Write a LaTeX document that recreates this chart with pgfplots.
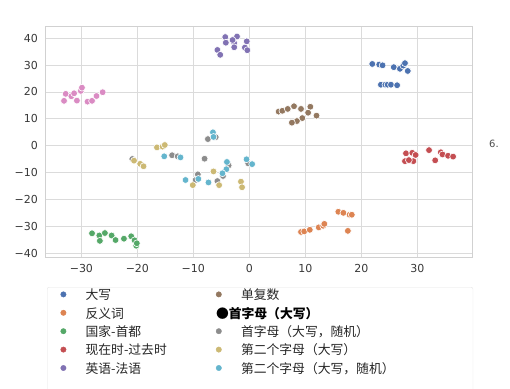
\documentclass[border=0pt]{standalone}
\usepackage{pgfplots}
\pgfplotsset{compat=1.18}
\usepackage{fontspec}
\setmainfont{DejaVu Sans}
\newfontfamily\cjk{Noto Sans CJK SC}
\definecolor{cBlue}{HTML}{4C72B0}
\definecolor{cOrange}{HTML}{DD8452}
\definecolor{cGreen}{HTML}{55A868}
\definecolor{cRed}{HTML}{C44E52}
\definecolor{cPurple}{HTML}{8172B3}
\definecolor{cBrown}{HTML}{937860}
\definecolor{cPink}{HTML}{DA8BC3}
\definecolor{cGray}{HTML}{8C8C8C}
\definecolor{cOlive}{HTML}{CCB974}
\definecolor{cCyan}{HTML}{64B5CD}
\newcommand\LA[1]{\makebox[130.3pt][l]{#1}}
\newcommand\LB[1]{\makebox[218.7pt][l]{#1}}
\pgfplotsset{
  dot/.style={only marks, mark=*, color=#1, mark size=3.4pt,
    mark options={draw=white, fill=#1, line width=0.6pt}},
}
\begin{document}
\begin{tikzpicture}
\path[use as bounding box] (0pt,0pt) rectangle (510pt,388pt);
\begin{axis}[
  at={(45pt,131pt)}, anchor=south west,
  scale only axis, width=427.7pt, height=231pt,
  xmin=-36.5, xmax=39.9, ymin=-41.3, ymax=44.5,
  xtick={-30,-20,-10,0,10,20,30},
  xticklabels={−30,−20,−10,0,10,20,30},
  ytick={-40,-30,-20,-10,0,10,20,30,40},
  yticklabels={−40,−30,−20,−10,0,10,20,30,40},
  major tick length=0pt,
  grid=major,
  major grid style={draw=black!14, line width=0.8pt},
  axis line style={draw=black!18, line width=0.8pt},
  tick label style={font=\fontsize{11}{13}\selectfont, text=black!78},
  xticklabel style={yshift=-4pt},
  yticklabel style={xshift=-3.6pt},
  legend columns=2,
  legend image code/.code={\fill (0pt,5.3pt) circle (2.7pt);},
  legend style={
    at={(axis description cs:0.00468,-0.12987)}, anchor=north west,
    draw=black!10, rounded corners=2pt, fill=white,
    inner xsep=13.3pt, inner ysep=2.0pt,
    row sep=6.4pt,
    cells={anchor=base west},
    font=\cjk\fontsize{12.8}{14}\selectfont,
    text=black!85,
    nodes={inner sep=0pt, text height=10.5pt, text depth=1.5pt},
    /tikz/every odd column/.append style={column sep=19.3pt},
    /tikz/every even column/.append style={column sep=0pt},
  },
]
% blue
\addplot[dot=cBlue] coordinates {
(21.96,30.4) (23.2,30.2) (23.8,29.9) (25.8,29.2) (26.9,28.6) (27.5,29.8) (27.8,30.7) (28.3,27.8)
(23.5,22.7) (24.3,22.7) (24.7,22.7) (25.3,22.7) (26.4,22.5)};
\addlegendentry{\LA{大写}}
% brown
\addplot[dot=cBrown] coordinates {
(5.24,12.7) (5.9,13.0) (6.86,13.7) (7.98,14.7) (9.23,13.7) (10.9,14.5) (10.5,12.3)
(9.46,10.3) (8.5,9.2) (7.6,8.6) (12.0,11.2)};
\addlegendentry{\LB{单复数}}
% orange
\addplot[dot=cOrange] coordinates {
(9.23,-32.0) (9.8,-31.8) (10.8,-31.2) (12.4,-30.3) (13.2,-29.7) (13.4,-29.0)
(15.9,-24.5) (16.8,-24.9) (17.9,-25.6) (18.3,-25.6) (17.6,-31.6)};
\addlegendentry{\LA{反义词}}
% pink
\addplot[dot=cPink, legend image code/.code={}] coordinates {
(-33.1,16.7) (-32.8,19.3) (-31.8,18.4) (-31.3,19.5) (-30.8,16.8) (-30.1,20.4)
(-29.9,21.6) (-28.9,16.4) (-28.1,16.7) (-27.3,18.5) (-26.2,19.9)};
\addlegendentry[text=black]{\LB{\hspace*{-25pt}\bfseries ●首字母（大写）}}
% green
\addplot[dot=cGreen] coordinates {
(-28.1,-32.5) (-26.8,-33.3) (-26.7,-35.3) (-25.8,-32.4) (-24.6,-33.3) (-23.9,-35.0)
(-22.4,-34.5) (-21.1,-33.6) (-20.5,-35.1) (-20.2,-37.1) (-20.1,-36.2)};
\addlegendentry{\LA{国家-首都}}
% gray
\addplot[dot=cGray] coordinates {
(-7.4,2.5) (-6.0,3.2) (-13.8,-3.5) (-12.8,-3.9) (-20.9,-4.9) (-8.0,-4.8) (-3.7,-7.3)
(-4.7,-11.2) (-5.7,-13.1) (-9.2,-10.6) (-9.6,-12.7) (-0.2,-6.5)};
\addlegendentry{\LB{首字母（大写，随机）}}
% red
\addplot[dot=cRed] coordinates {
(27.98,-2.8) (29.1,-2.6) (29.7,-3.4) (27.8,-5.7) (29.3,-5.7) (32.1,-1.6) (34.2,-2.4)
(34.5,-3.2) (35.5,-3.7) (36.4,-4.0) (33.2,-5.4) (28.5,-5.3)};
\addlegendentry{\LA{现在时-过去时}}
% olive
\addplot[dot=cOlive] coordinates {
(-16.5,-0.6) (-15.5,-0.3) (-15.1,0.3) (-20.6,-5.5) (-19.5,-6.7) (-18.9,-7.6)
(-6.4,-9.5) (-5.4,-14.6) (-10.1,-14.6) (-1.5,-13.3) (-1.3,-15.4)};
\addlegendentry{\LB{第二个字母（大写）}}
% purple
\addplot[dot=cPurple] coordinates {
(-5.7,35.6) (-5.2,33.8) (-4.3,40.4) (-4.2,38.3) (-2.2,40.6) (-2.7,38.1) (-2.7,36.6)
(-0.46,38.8) (-0.8,36.5) (-0.36,35.5) (-3.0,39.3)};
\addlegendentry[text depth=20pt]{\LA{英语-法语}}
% cyan
\addplot[dot=cCyan] coordinates {
(-6.5,5.0) (-6.4,3.3) (-15.2,-3.9) (-12.3,-4.3) (-4.0,-6.0) (-4.1,-8.7) (-4.8,-10.2)
(-7.3,-13.6) (-9.1,-12.3) (-11.4,-12.7) (-0.5,-5.0) (0.5,-6.8)};
\addlegendentry[text depth=20pt]{\LB{第二个字母（大写，随机）}}
\end{axis}
\node[anchor=center, font=\fontsize{10}{12}\selectfont, text=black!70] at (494pt,244pt) {6.};
\end{tikzpicture}
\end{document}
